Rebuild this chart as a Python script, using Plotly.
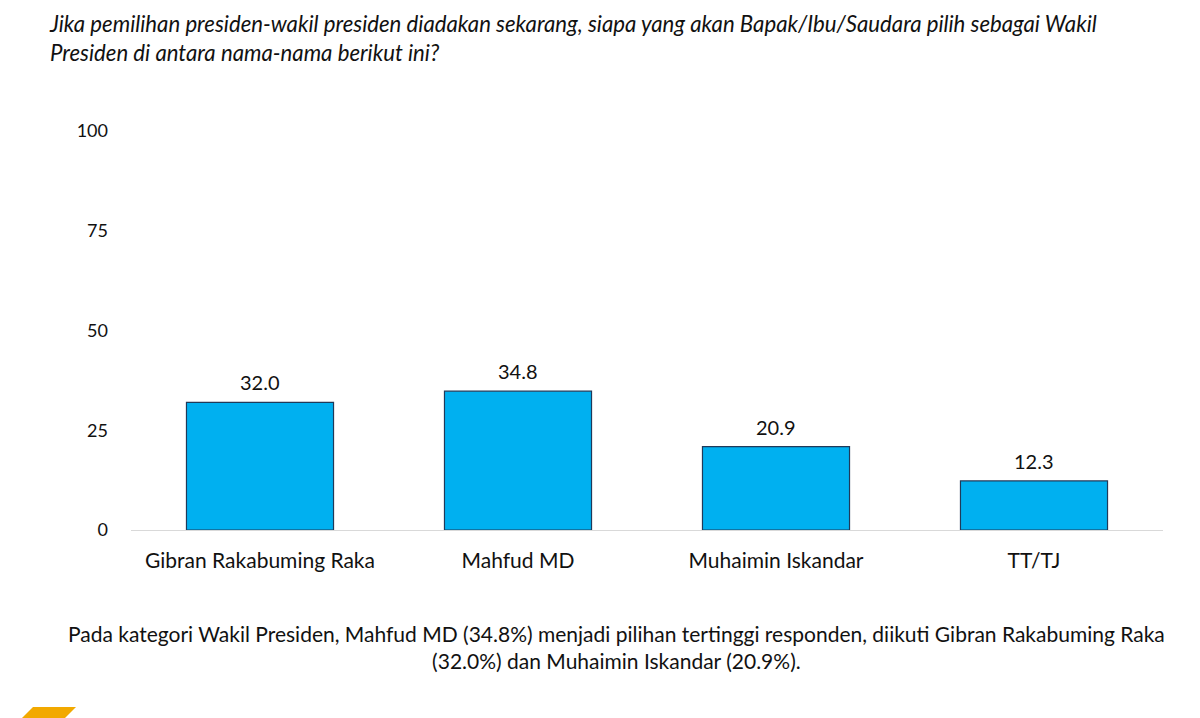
import plotly.graph_objects as go

categories = ["Gibran Rakabuming Raka", "Mahfud MD", "Muhaimin Iskandar", "TT/TJ"]
values = [32.0, 34.8, 20.9, 12.3]
y_ticks = [0, 25, 50, 75, 100]

title_lines = ["Jika pemilihan presiden-wakil presiden diadakan sekarang, siapa yang akan Bapak/Ibu/Saudara pilih sebagai Wakil",
               "Presiden di antara nama-nama berikut ini?"]
note_lines = ["Pada kategori Wakil Presiden, Mahfud MD (34.8%) menjadi pilihan tertinggi responden, diikuti Gibran Rakabuming Raka",
              "(32.0%) dan Muhaimin Iskandar (20.9%)."]

FONT = "Lato"
W, H = 1200, 718
OFF = 8  # page body margin offset
L, R, T, B = 131 - OFF, 1163 - OFF, 131 - OFF, 530 - OFF  # plot area in figure pixels


def px(x):
    return (x - OFF - L) / (R - L)


def py(y):
    return (B - (y - OFF)) / (B - T)


fig = go.Figure(go.Bar(
    x=categories, y=values,
    marker=dict(color="#00B0F0", line=dict(color="#1F3A5A", width=1.2)),
    width=0.57,
))

annotations = []
for c, v in zip(categories, values):
    annotations.append(dict(x=c, y=v, xref="x", yref="y", text=f"{v:.1f}",
                            showarrow=False, yanchor="middle", yshift=20,
                            font=dict(size=20, family=FONT, color="#111111")))

annotations.append(dict(text="<br>".join(title_lines), x=px(47), y=py(8), xref="paper", yref="paper",
                        xanchor="left", yanchor="top", align="left", showarrow=False,
                        font=dict(size=22.2, style="italic", family=FONT, color="#111111")))

annotations.append(dict(text="<br>".join(note_lines), x=px(616), y=py(647), xref="paper", yref="paper",
                        xanchor="center", yanchor="middle", align="center", showarrow=False,
                        font=dict(size=21, family=FONT, color="#111111")))

fig.update_layout(
    width=W, height=H,
    margin=dict(l=L, r=W - R, t=T, b=H - B, autoexpand=False),
    plot_bgcolor="white", paper_bgcolor="white",
    showlegend=False,
    font=dict(family=FONT, color="#111111"),
    xaxis=dict(showgrid=False, showline=True, linecolor="#D9D9D9", linewidth=1,
               ticks="", tickfont=dict(size=21), ticklabelstandoff=12),
    yaxis=dict(range=[0, 100], tickvals=y_ticks, showgrid=False, zeroline=False,
               showline=False, ticks="", tickfont=dict(size=18), ticklabelstandoff=22),
    annotations=annotations,
    shapes=[
        dict(type="path", xref="paper", yref="paper",
             path=(f"M {px(20)} {py(720)} L {px(33)} {py(707)} "
                   f"L {px(76)} {py(707)} L {px(63)} {py(720)} Z"),
             fillcolor="#F2A900", line=dict(width=0)),
    ],
)

fig.write_html("out.html")
